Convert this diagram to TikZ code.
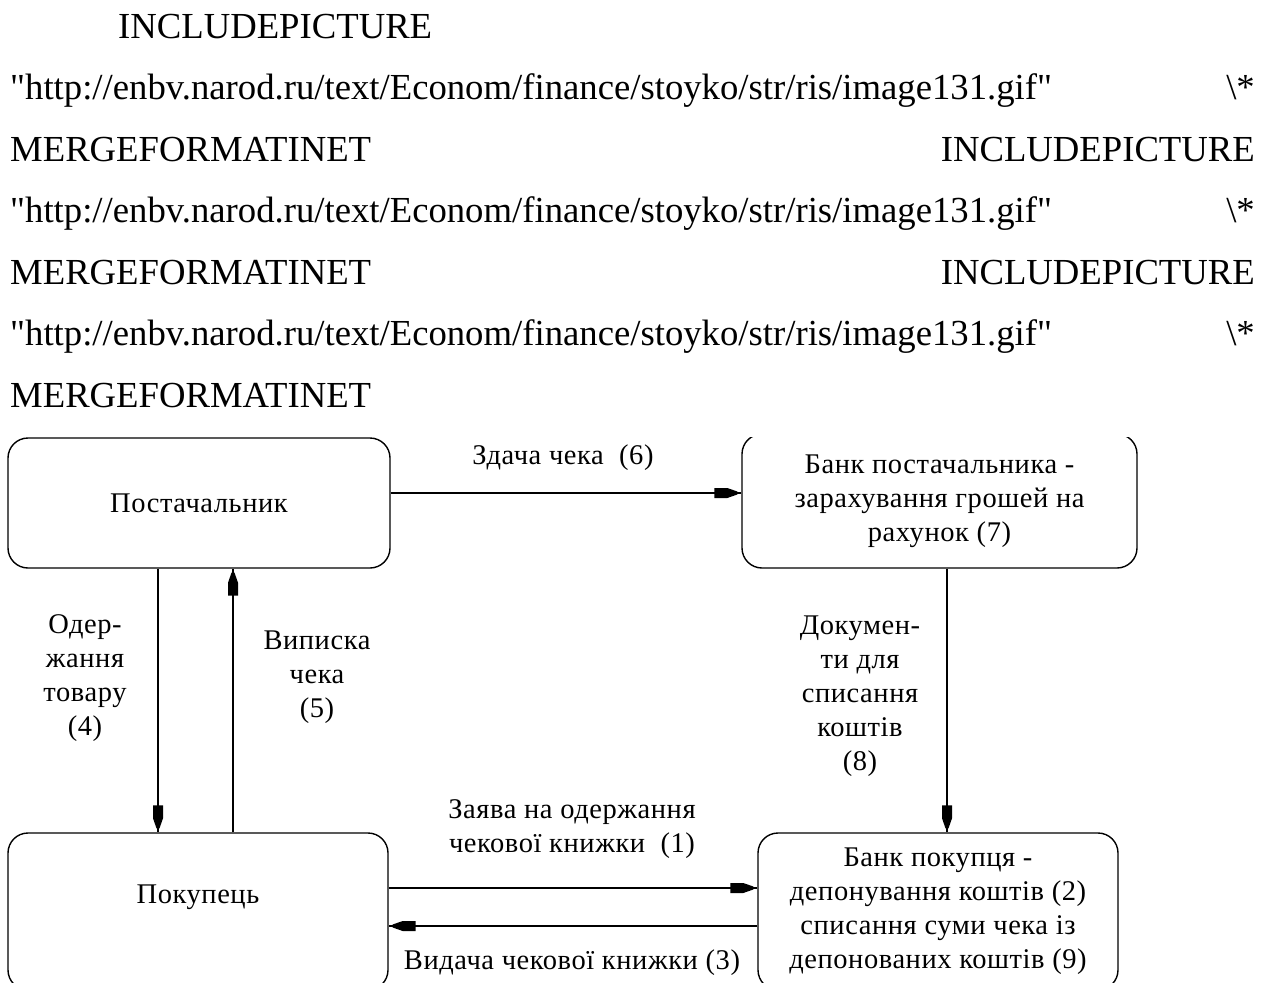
\documentclass[tikz,border=0pt]{standalone}
\usepackage{fontspec}
\setmainfont{Liberation Serif}[Ligatures=TeXOff]
\newfontfamily\dgfont[LetterSpace=2]{Liberation Serif}
\usetikzlibrary{decorations.markings,calc}
\begin{document}
\begin{tikzpicture}[x=1pt,y=-1pt,
 toptext/.style={inner sep=0pt, font=\fontsize{36.7}{44}\selectfont},
 box/.style={draw, line width=1.4pt, rounded corners=20pt, font=\dgfont\fontsize{28.5}{34}\selectfont, align=center, inner sep=0pt},
 lbl/.style={font=\dgfont\fontsize{28.5}{34}\selectfont, align=center, inner sep=0pt},
 conn/.style={line width=1.4pt, postaction={decorate}, decoration={markings, mark=at position -4pt with {\fill (-23pt,-5pt) -- (-10pt,-5pt) -- (0pt,-1.5pt) -- (0pt,1.5pt) -- (-10pt,5pt) -- (-23pt,5pt) -- cycle;}}}
]
\useasboundingbox (0,0) rectangle (1273,982);
\fill[white] (0,0) rectangle (1273,982);
% header text
\node[toptext, anchor=base west] (t1) at (118,38) {INCLUDEPICTURE};
\node[toptext, anchor=base west] (t2) at (10,99) {"http://enbv.narod.ru/text/Econom/finance/stoyko/str/ris/image131.gif"};
\node[toptext, anchor=base east] (t2r) at (1255,99) {\symbol{92}*};
\node[toptext, anchor=base west] (t3) at (10,161) {MERGEFORMATINET};
\node[toptext, anchor=base east] (t3r) at (1255,161) {INCLUDEPICTURE};
\node[toptext, anchor=base west] (t4) at (10,222) {"http://enbv.narod.ru/text/Econom/finance/stoyko/str/ris/image131.gif"};
\node[toptext, anchor=base east] (t4r) at (1255,222) {\symbol{92}*};
\node[toptext, anchor=base west] (t5) at (10,284) {MERGEFORMATINET};
\node[toptext, anchor=base east] (t5r) at (1255,284) {INCLUDEPICTURE};
\node[toptext, anchor=base west] (t6) at (10,345) {"http://enbv.narod.ru/text/Econom/finance/stoyko/str/ris/image131.gif"};
\node[toptext, anchor=base east] (t6r) at (1255,345) {\symbol{92}*};
\node[toptext, anchor=base west] (t7) at (10,407) {MERGEFORMATINET};
% boxes
\begin{scope}
\clip (0,437) rectangle (1273,982);
\node[box, minimum width=382pt, minimum height=130pt] (sup) at (199,503) {Постачальник};
\node[box, minimum width=395pt, minimum height=134pt] (bp) at (939.5,501) {Банк постачальника -\\зарахування грошей на\\рахунок (7)};
\node[box, minimum width=380pt, minimum height=157pt] (buy) at (198,911.5) {Покупець\\~};
\node[box, minimum width=360pt, minimum height=157pt] (bb) at (938,911.5) {Банк покупця -\\депонування коштів (2)\\списання суми чека із\\депонованих коштів (9)};
\end{scope}
% labels
\node[lbl] (l6) at (563,458) {Здача чека\ \ (6)};
\node[lbl] (l4) at (85,678) {Одер-\\жання\\товару\\(4)};
\node[lbl] (l5) at (317,677) {Виписка\\чека\\(5)};
\node[lbl] (l8) at (860,696) {Докумен-\\ти для\\списання\\коштів\\(8)};
\node[lbl] (l1) at (572,829) {Заява на одержання\\чекової книжки\ \ (1)};
\node[lbl] (l3) at (572,963) {Видача чекової книжки (3)};
% connectors
\coordinate (a6) at ($(sup.east)+(0,-10)$);
\draw[conn] (a6) -- (a6 -| bp.west);
\coordinate (a4) at ($(sup.south)+(-41,0)$);
\draw[conn] (a4) -- (a4 |- buy.north);
\coordinate (a5) at ($(buy.north)+(35,0)$);
\draw[conn] (a5) -- (a5 |- sup.south);
\coordinate (a8) at ($(bp.south)+(7.5,0)$);
\draw[conn] (a8) -- (a8 |- bb.north);
\coordinate (a1) at ($(buy.east)+(0,-23.5)$);
\draw[conn] (a1) -- (a1 -| bb.west);
\coordinate (a3) at ($(bb.west)+(0,14.5)$);
\draw[conn] (a3) -- (a3 -| buy.east);
\end{tikzpicture}
\end{document}
